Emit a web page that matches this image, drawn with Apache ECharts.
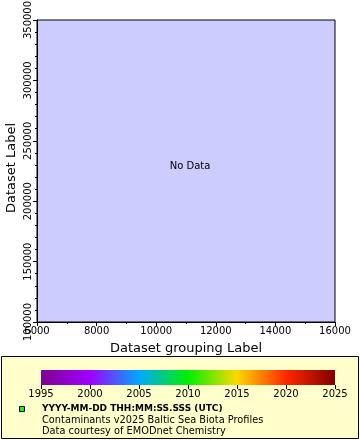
<!DOCTYPE html>
<html><head><meta charset="utf-8">
<script src="https://cdn.jsdelivr.net/npm/echarts@6/dist/echarts.min.js"></script>
<style>html,body{margin:0;padding:0;background:#fff}#c{width:360px;height:440px}</style>
</head><body><div id="c"></div>
<script>
// ---- data ----
var xRange = [6000, 16000];
var xInterval = 2000;
var yRange = [100000, 350000];
var yInterval = 50000;
var seriesData = []; // No data
var colorYears = [1995, 2000, 2005, 2010, 2015, 2020, 2025];
var colorStops = ['#800090', '#a000ff', '#00a8ff', '#00f000', '#ffd800', '#ff2800', '#800000'];
var xName = 'Dataset grouping Label';
var yName = 'Dataset Label';
var noDataText = 'No Data';
var legendTitle = 'YYYY-MM-DD THH:MM:SS.SSS (UTC)';
var legendLines = ['Contaminants v2025 Baltic Sea Biota Profiles', 'Data courtesy of EMODnet Chemistry'];

var FONT = 'DejaVu Sans';
var chart = echarts.init(document.getElementById('c'), null, {renderer: 'canvas'});
var grad = new echarts.graphic.LinearGradient(0, 0, 1, 0,
  colorStops.map(function (c, i) { return {offset: i / (colorStops.length - 1), color: c}; }));
var plain = function (v) { return String(v); };

chart.setOption({
  animation: false,
  backgroundColor: '#ffffff',
  textStyle: {fontFamily: FONT},
  grid: [
    {left: 37, right: 25, top: 20, bottom: 118, show: true, backgroundColor: '#CCCCFF', borderColor: '#000', borderWidth: 1,
     containLabel: false, outerBoundsMode: 'none'},
    {left: 41, right: 25, top: 370, height: 15, show: false, containLabel: false, outerBoundsMode: 'none'}
  ],
  xAxis: [
    {type: 'value', gridIndex: 0, min: xRange[0], max: xRange[1], interval: xInterval,
     name: xName, nameLocation: 'middle', nameGap: 20, nameTextStyle: {fontSize: 13, color: '#000', fontFamily: FONT},
     axisLine: {show: true, lineStyle: {color: '#000'}},
     axisTick: {show: true, length: 4, lineStyle: {color: '#000'}},
     minorTick: {show: true, splitNumber: 2, length: 2, lineStyle: {color: '#000'}},
     splitLine: {show: false},
     axisLabel: {fontSize: 10, color: '#000', margin: 4, fontFamily: FONT, formatter: plain, showMaxLabel: true, showMinLabel: true, hideOverlap: false}},
    {type: 'value', gridIndex: 1, min: colorYears[0], max: colorYears[colorYears.length - 1], interval: 5,
     axisLine: {show: false},
     axisTick: {show: true, length: 4, lineStyle: {color: '#000'}},
     splitLine: {show: false},
     axisLabel: {fontSize: 10, color: '#000', margin: 4, fontFamily: FONT, formatter: plain, showMaxLabel: true, showMinLabel: true, hideOverlap: false}}
  ],
  yAxis: [
    {type: 'value', gridIndex: 0, min: yRange[0], max: yRange[1], interval: yInterval,
     axisLine: {show: true, lineStyle: {color: '#000'}},
     axisTick: {show: true, length: 4, lineStyle: {color: '#000'}},
     minorTick: {show: true, splitNumber: 5, length: 2, lineStyle: {color: '#000'}},
     splitLine: {show: false},
     axisLabel: {fontSize: 10, color: '#000', margin: 4, rotate: 90, fontFamily: FONT, formatter: plain, showMaxLabel: true, showMinLabel: true, hideOverlap: false}},
    {type: 'value', gridIndex: 1, min: 0, max: 1, show: false}
  ],
  graphic: [
    {type: 'rect', z: -1, shape: {x: 1.5, y: 356.5, width: 357, height: 82}, style: {fill: '#FFFFCC', stroke: '#000', lineWidth: 1}},
    {type: 'text', z: 10, x: 12, y: 168, rotation: Math.PI / 2, style: {text: yName, font: '13px "DejaVu Sans"', fill: '#000', align: 'center', verticalAlign: 'middle'}},
    {type: 'text', z: 10, x: 190, y: 166, style: {text: noDataText, font: '10px "DejaVu Sans"', fill: '#000', align: 'center', verticalAlign: 'middle'}},
    {type: 'rect', z: 10, shape: {x: 19.5, y: 406.5, width: 5, height: 5}, style: {fill: '#00ff00', stroke: '#000', lineWidth: 1}},
    {type: 'text', z: 10, x: 42, y: 409, style: {text: legendTitle, font: 'bold 9px "DejaVu Sans"', fill: '#000', verticalAlign: 'middle'}},
    {type: 'text', z: 10, x: 42, y: 420.5, style: {text: legendLines[0], font: '9.8px "DejaVu Sans"', fill: '#000', verticalAlign: 'middle'}},
    {type: 'text', z: 10, x: 42, y: 431.5, style: {text: legendLines[1], font: '9.8px "DejaVu Sans"', fill: '#000', verticalAlign: 'middle'}}
  ],
  series: [
    {type: 'scatter', xAxisIndex: 0, yAxisIndex: 0, data: seriesData},
    {type: 'line', xAxisIndex: 1, yAxisIndex: 1, data: [], silent: true,
     markArea: {silent: true, itemStyle: {color: grad, borderWidth: 0},
       data: [[{coord: [colorYears[0], 0]}, {coord: [colorYears[colorYears.length - 1], 1]}]]}}
  ]
});
</script></body></html>
